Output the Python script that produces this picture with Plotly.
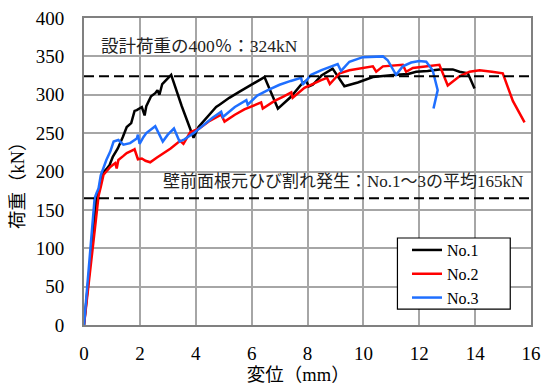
import plotly.graph_objects as go

# ---- data ----
x1 = [0, 0.14, 0.26, 0.38, 0.44, 0.49, 0.55, 0.67, 0.80, 0.91, 1.03, 1.21, 1.39, 1.53, 1.69, 1.81, 1.89, 2.07, 2.17, 2.23, 2.40, 2.55, 2.63, 2.70, 2.80, 2.95, 3.12, 3.50, 3.92, 4.10, 4.40, 4.73, 4.85, 5.20, 5.57, 6.00, 6.46, 6.94, 7.40, 7.77, 7.95, 8.05, 8.19, 8.50, 8.90, 9.32, 9.80, 10.34, 10.80, 11.17, 11.60, 11.89, 12.30, 12.72, 13.20, 13.44, 13.74, 13.98]
y1 = [0, 50, 98, 137, 162, 170, 180, 198, 203, 208, 219, 230, 245, 258, 263, 279, 280, 284, 273, 285, 298, 302, 306, 300, 314, 320, 326, 285, 244, 258, 270, 284, 287, 296, 304, 313, 323, 282, 297, 313, 318, 311, 313, 325, 334, 311, 316, 323, 325, 326, 327, 330, 331, 333, 333, 330, 328, 308]

x2 = [0, 0.15, 0.28, 0.42, 0.52, 0.60, 0.70, 0.80, 0.94, 1.05, 1.12, 1.17, 1.23, 1.40, 1.53, 1.77, 1.81, 1.93, 2.07, 2.20, 2.37, 2.60, 2.85, 3.10, 3.44, 3.56, 3.80, 4.13, 4.50, 4.91, 5.03, 5.40, 5.74, 6.34, 6.40, 6.82, 7.10, 7.42, 7.47, 7.89, 8.49, 8.70, 8.80, 9.15, 9.50, 10.00, 10.34, 10.46, 10.70, 11.41, 11.53, 11.77, 12.37, 12.72, 13.02, 13.44, 13.80, 14.16, 14.60, 14.99, 15.35, 15.77]
y2 = [0, 45, 90, 135, 168, 180, 196, 200, 206, 209, 211, 204, 215, 220, 224, 228, 229, 216, 217, 214, 212, 218, 224, 230, 240, 236, 251, 256, 266, 274, 265, 274, 281, 290, 282, 292, 297, 303, 296, 309, 319, 322, 314, 328, 332, 335, 337, 330, 337, 339, 330, 335, 338, 339, 312, 324, 330, 332, 330, 328, 292, 264]

x3 = [0, 0.12, 0.22, 0.32, 0.38, 0.45, 0.52, 0.60, 0.70, 0.80, 0.94, 1.06, 1.23, 1.35, 1.41, 1.65, 1.89, 1.93, 1.99, 2.13, 2.23, 2.55, 2.82, 3.00, 3.22, 3.42, 3.60, 3.92, 4.28, 4.60, 4.91, 4.97, 5.40, 5.81, 5.86, 6.20, 6.58, 7.00, 7.40, 7.77, 7.83, 8.13, 8.50, 8.85, 9.08, 9.20, 9.50, 9.98, 10.52, 10.70, 10.87, 11.17, 11.41, 11.71, 12.00, 12.25, 12.48, 12.66, 12.51]
y3 = [0, 50, 95, 135, 165, 172, 178, 195, 206, 215, 226, 239, 241, 237, 235, 237, 243, 248, 236, 245, 250, 259, 239, 248, 256, 239, 242, 250, 261, 270, 278, 271, 284, 293, 287, 299, 306, 313, 318, 322, 313, 326, 332, 337, 340, 331, 343, 349, 350, 350, 345, 326, 337, 342, 344, 343, 332, 306, 282]

series_names = ["No.1", "No.2", "No.3"]
series_colors = ["#000000", "#ff0000", "#1f6fff"]

design_load = 324
crack_load = 165
design_text = "設計荷重の400％：324kN"
crack_text = "壁前面根元ひび割れ発生：No.1～3の平均165kN"

x_title = "変位（mm）"
y_title = "荷重（kN）"

SERIF = "Liberation Serif"
FONT = "Liberation Serif, Noto Sans CJK JP, serif"
PAD = "&nbsp;" * 4

fig = go.Figure()
for xs, ys, name, col in zip([x1, x2, x3], [y1, y2, y3], series_names, series_colors):
    fig.add_trace(go.Scatter(x=xs, y=ys, mode="lines", name=name,
                             line=dict(color=col, width=2.5)))

for val in [design_load, crack_load]:
    fig.add_shape(type="line", xref="paper", x0=0, x1=1, yref="y", y0=val, y1=val,
                  line=dict(color="black", width=2, dash="10px,5px"), layer="above")

# legend frame
fig.add_shape(type="rect", xref="paper", yref="paper", x0=0.7012, x1=0.9536, y0=0.052, y1=0.2834,
              line=dict(color="black", width=1.2), fillcolor="white", layer="above")

fig.add_annotation(x=0.53, y=363, xref="x", yref="y", text=design_text, showarrow=False,
                   xanchor="left", yanchor="middle", font=dict(family=FONT, size=17.5, color="#222"))
fig.add_annotation(x=2.76, y=187, xref="x", yref="y", text=crack_text, showarrow=False,
                   xanchor="left", yanchor="middle", font=dict(family=FONT, size=17, color="#222"))

fig.update_layout(
    width=544, height=387,
    margin=dict(l=84, r=13, t=18, b=62, autoexpand=False),
    paper_bgcolor="white", plot_bgcolor="white",
    font=dict(family=FONT, color="black"),
    showlegend=True,
    legend=dict(x=0.7226, y=0.2995, xanchor="left", yanchor="top",
                borderwidth=0, bgcolor="rgba(0,0,0,0)",
                font=dict(family=SERIF, size=16), tracegroupgap=0,
                itemwidth=30),
    xaxis=dict(range=[0, 16], dtick=2, tick0=0, showgrid=True, gridcolor="#a6a6a6", gridwidth=1.5,
               showline=True, linecolor="#808080", linewidth=2, mirror=True, zeroline=False,
               ticks="outside", ticklen=10, tickcolor="rgba(0,0,0,0)", automargin=False,
               tickfont=dict(family=SERIF, size=19),
               title=dict(text=x_title + PAD, font=dict(family=FONT, size=18.5), standoff=5)),
    yaxis=dict(range=[0, 400], dtick=50, tick0=0, showgrid=True, gridcolor="#a6a6a6", gridwidth=1.5,
               showline=True, linecolor="#808080", linewidth=2, mirror=True, zeroline=False,
               ticks="outside", ticklen=14, tickcolor="rgba(0,0,0,0)", automargin=False,
               tickfont=dict(family=SERIF, size=19),
               title=dict(text=y_title + PAD, font=dict(family=FONT, size=18.5), standoff=6)),
)

fig.write_html("out.html", config={"displayModeBar": False},
               post_script="document.body.style.margin='0';document.body.style.padding='0';")
